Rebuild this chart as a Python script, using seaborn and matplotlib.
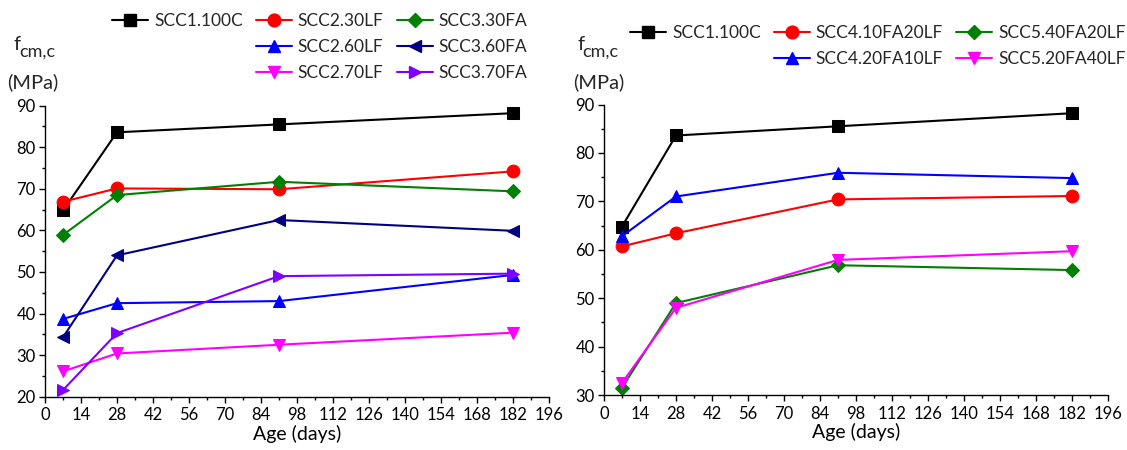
import matplotlib
matplotlib.use("Agg")
import matplotlib.pyplot as plt
from matplotlib.lines import Line2D
from matplotlib.ticker import MultipleLocator
import seaborn as sns
import pandas as pd

ages = [7, 28, 91, 182]

# left panel
left_names = ["SCC1.100C", "SCC2.30LF", "SCC3.30FA", "SCC2.60LF", "SCC3.60FA", "SCC2.70LF", "SCC3.70FA"]
scc1_100c = [64.8, 83.6, 85.5, 88.2]
scc2_30lf = [66.9, 70.1, 69.9, 74.2]
scc3_30fa = [58.9, 68.5, 71.7, 69.4]
scc2_60lf = [38.7, 42.5, 43.0, 49.3]
scc3_60fa = [34.3, 54.0, 62.5, 59.9]
scc2_70lf = [26.1, 30.4, 32.5, 35.4]
scc3_70fa = [21.6, 35.3, 49.0, 49.6]

# right panel
right_names = ["SCC1.100C", "SCC4.10FA20LF", "SCC5.40FA20LF", "SCC4.20FA10LF", "SCC5.20FA40LF"]
scc4_10fa20lf = [60.7, 63.4, 70.4, 71.1]
scc5_40fa20lf = [31.5, 49.0, 56.8, 55.8]
scc4_20fa10lf = [62.8, 71.0, 75.9, 74.8]
scc5_20fa40lf = [32.5, 48.0, 57.9, 59.7]

x_ticks = list(range(0, 197, 14))

sns.set_theme(style="ticks")
plt.rcParams['font.family'] = ['Lato', 'DejaVu Sans']

FS_TICK = 12
FS_LEG = 12.5
FS_LAB = 14
W, H = 1127, 450
fig = plt.figure(figsize=(11.27, 4.5), dpi=100)
axL = fig.add_axes([45 / W, 1 - 396.7 / H, 504 / W, (396.7 - 105.7) / H])
axR = fig.add_axes([604 / W, 1 - 395 / H, 504 / W, (395 - 104.5) / H])

styles = {
    "SCC1.100C": ("black", "s", 8.2),
    "SCC2.30LF": ("#ff0000", "o", 9.2),
    "SCC3.30FA": ("#008000", "D", 7.2),
    "SCC2.60LF": ("#0000ff", "^", 9.2),
    "SCC3.60FA": ("#000080", "<", 9.2),
    "SCC2.70LF": ("#ff00ff", "v", 9.2),
    "SCC3.70FA": ("#8000ff", ">", 9.2),
    "SCC4.10FA20LF": ("#ff0000", "o", 9.2),
    "SCC5.40FA20LF": ("#008000", "D", 7.2),
    "SCC4.20FA10LF": ("#0000ff", "^", 9.2),
    "SCC5.20FA40LF": ("#ff00ff", "v", 9.2),
}

left_vals = [scc1_100c, scc2_30lf, scc3_30fa, scc2_60lf, scc3_60fa, scc2_70lf, scc3_70fa]
right_vals = [scc1_100c, scc4_10fa20lf, scc5_40fa20lf, scc4_20fa10lf, scc5_20fa40lf]

def draw(ax, names, vals):
    handles = {}
    for n, v in zip(names, vals):
        c, m, ms = styles[n]
        df = pd.DataFrame({"age": ages, "f": v})
        sns.lineplot(data=df, x="age", y="f", ax=ax, color=c, marker=m, markersize=ms,
                     markeredgecolor=c, linewidth=1.5, legend=False)
        handles[n] = Line2D([], [], color=c, marker=m, markersize=ms, markeredgecolor=c, linewidth=1.5)
    ax.set_xlim(0, 196)
    ax.set_xticks(x_ticks)
    ax.xaxis.set_minor_locator(MultipleLocator(7))
    ax.yaxis.set_major_locator(MultipleLocator(10))
    ax.yaxis.set_minor_locator(MultipleLocator(5))
    ax.tick_params(which="major", direction="out", length=4.2, width=1, labelsize=FS_TICK, colors="black")
    ax.tick_params(which="minor", direction="out", length=2.4, width=1, colors="black")
    ax.tick_params(axis="x", which="major", pad=3.5)
    ax.tick_params(axis="y", which="major", pad=2.5)
    for s in ["top", "right"]:
        ax.spines[s].set_visible(False)
    for s in ["left", "bottom"]:
        ax.spines[s].set_color("black")
        ax.spines[s].set_linewidth(1)
    ax.set_xlabel("Age (days)", fontsize=FS_LAB, labelpad=1, color="black")
    ax.set_ylabel("")
    return handles

hL = draw(axL, left_names, left_vals)
axL.set_ylim(20, 90)
hR = draw(axR, right_names, right_vals)
axR.set_ylim(30, 90)

leg_kw = dict(ncol=3, loc="upper left", frameon=False, fontsize=FS_LEG, handlelength=2.07,
              columnspacing=0.75, handletextpad=0.35, labelspacing=0.57, borderpad=0, borderaxespad=0)

blank = Line2D([], [], linestyle="none")
orderL = [hL["SCC1.100C"], blank, blank, hL["SCC2.30LF"], hL["SCC2.60LF"], hL["SCC2.70LF"],
          hL["SCC3.30FA"], hL["SCC3.60FA"], hL["SCC3.70FA"]]
labelsL = ["SCC1.100C", "", "", "SCC2.30LF", "SCC2.60LF", "SCC2.70LF", "SCC3.30FA", "SCC3.60FA", "SCC3.70FA"]
fig.legend(orderL, labelsL, bbox_to_anchor=(112 / W, 1 - 13.5 / H), **leg_kw)

orderR = [hR["SCC1.100C"], blank, hR["SCC4.10FA20LF"], hR["SCC4.20FA10LF"], hR["SCC5.40FA20LF"], hR["SCC5.20FA40LF"]]
labelsR = ["SCC1.100C", "", "SCC4.10FA20LF", "SCC4.20FA10LF", "SCC5.40FA20LF", "SCC5.20FA40LF"]
fig.legend(orderR, labelsR, bbox_to_anchor=(630 / W, 1 - 25 / H), **leg_kw)

for fx, sx, mx in [(14, 19.5, 7), (577, 582.5, 573)]:
    fig.text(fx / W, 1 - 50 / H, "f", fontsize=FS_LAB + 0.5, va="baseline", ha="left")
    fig.text(sx / W, 1 - 57 / H, "cm,c", fontsize=FS_LAB - 1, va="baseline", ha="left")
    fig.text(mx / W, 1 - 82.5 / H, "(MPa)", fontsize=FS_LAB + 0.5, va="center", ha="left")

fig.savefig("out.png", dpi=100, facecolor="white")
